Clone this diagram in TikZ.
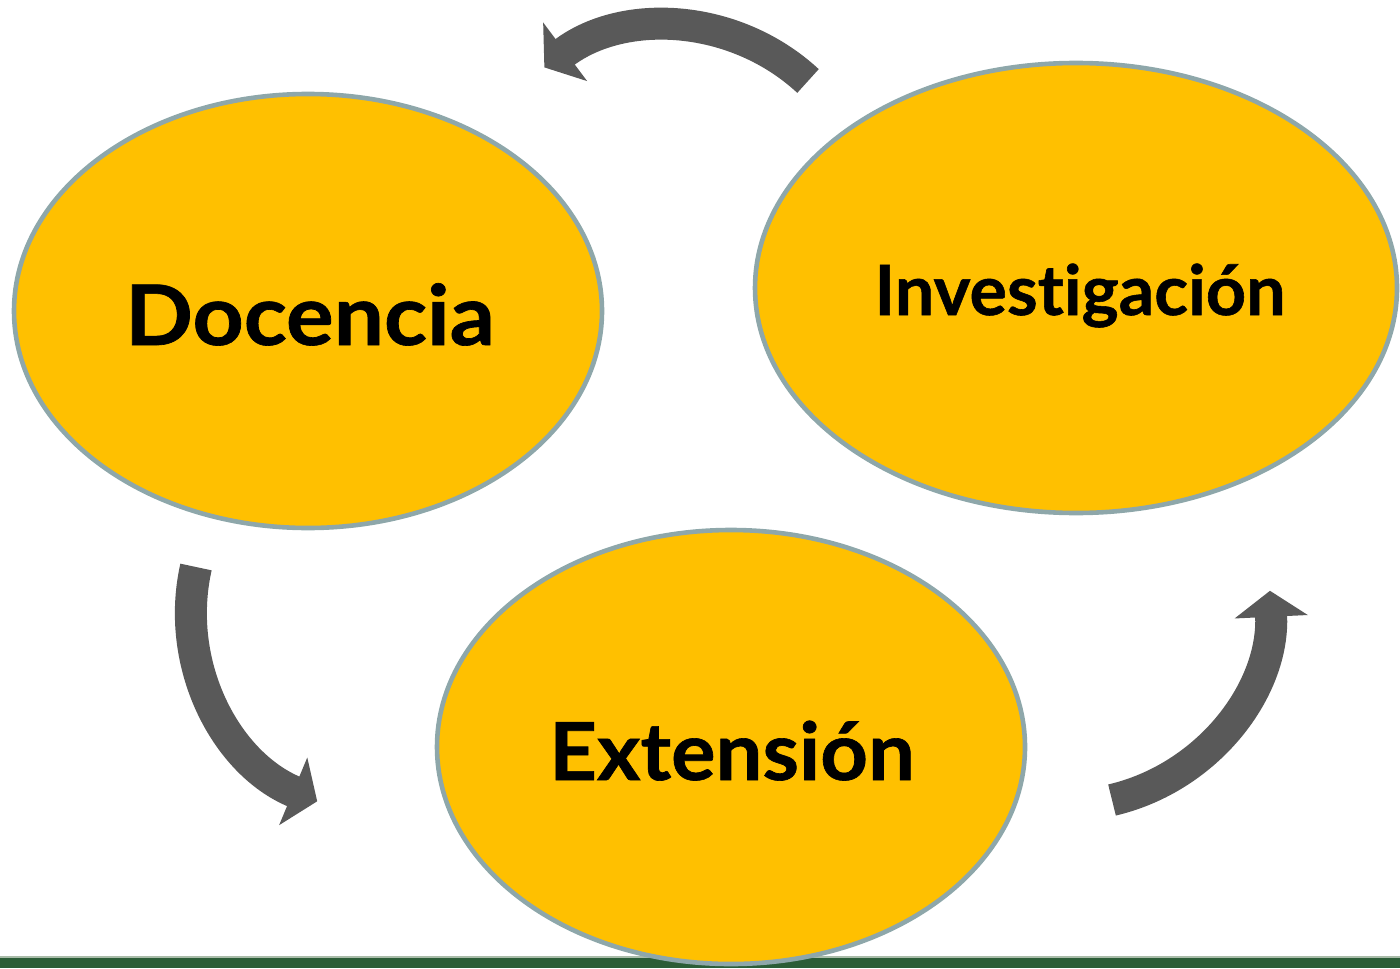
\documentclass[tikz,border=0pt]{standalone}
\usepackage{fontspec}
\setmainfont{Lato}[Ligatures={NoCommon}, BoldFeatures={FakeBold=0.8}]
\usetikzlibrary{shapes.geometric,arrows.meta}
\definecolor{gold}{HTML}{FFC000}
\definecolor{rim}{HTML}{8EA7AA}
\definecolor{arr}{HTML}{595959}
\definecolor{barg}{HTML}{2B5D37}
\definecolor{barlite}{HTML}{A9BCA9}
\begin{document}
\begin{tikzpicture}[x=0.5pt,y=-0.5pt,
  blob/.style={ellipse, draw=rim, line width=2.3pt, fill=gold, inner sep=0pt},
  lbl/.style={anchor=base, inner sep=0pt, font=\bfseries},
  cyc/.style={draw=arr, line width=16pt, -{Triangle[length=13pt,width=36pt]}}]
\useasboundingbox (0,0) rectangle (1400,968);
\fill[barg] (0,958) rectangle (1400,968);
\fill[barlite] (0,956) rectangle (1400,958);
% ellipses
\node[blob, minimum width=294pt, minimum height=217pt] (doc) at (308,311) {};
\node[blob, minimum width=321pt, minimum height=225pt] (inv) at (1076,288) {};
\node[blob, minimum width=294pt, minimum height=217pt] (ext) at (731,747) {};
% labels
\node[lbl, font=\bfseries\fontsize{41.7}{45}\selectfont] (docT) at (310,345) {\scalebox{1.07}[1]{Docencia}};
\node[lbl, font=\bfseries\fontsize{34.7}{38}\selectfont] (invT) at (1080,315) {\scalebox{1.01}[1]{Investigación}};
\node[lbl, font=\bfseries\fontsize{40}{44}\selectfont] (extT) at (732,780) {\scalebox{1.04}[1]{Extensión}};
% cycle arrows
\coordinate (a1) at (808,81);
\coordinate (a2) at (196,567);
\coordinate (a3) at (1112,800);
\draw[cyc] (a1) arc[start angle=-47.2, end angle=-126.9, radius=206];
\draw[cyc] (a2) arc[start angle=192.7, end angle=112.6, radius=205];
\draw[cyc] (a3) arc[start angle=76.8, end angle=-2.7, radius=205];
\end{tikzpicture}
\end{document}
